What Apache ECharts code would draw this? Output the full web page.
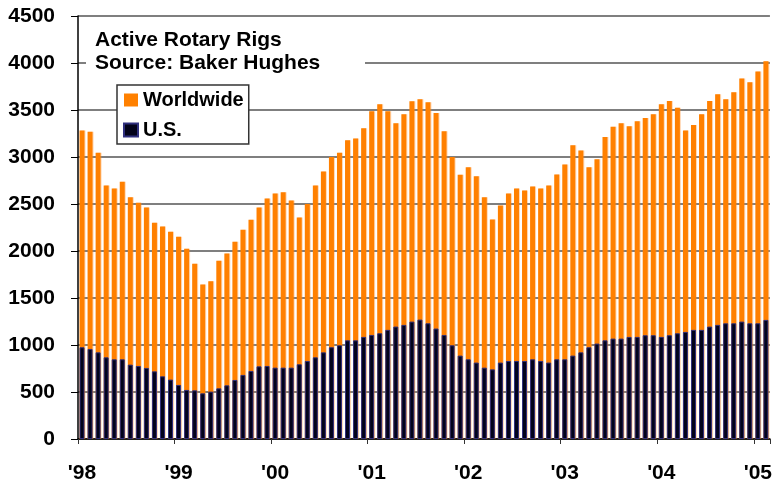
<!DOCTYPE html>
<html>
<head>
<meta charset="utf-8">
<script src="https://cdn.jsdelivr.net/npm/echarts@6/dist/echarts.min.js"></script>
<style>
  html, body { margin: 0; padding: 0; background: #fff; }
  #main { width: 775px; height: 489px; }
</style>
</head>
<body>
<div id="main"></div>
<script>
  // monthly data, Jan 1998 .. Feb 2005
  const yearLabels = ["'98", "'99", "'00", "'01", "'02", "'03", "'04", "'05"]
  const worldwide = [
    3283, 3269, 3046, 2698, 2666, 2737, 2573, 2513, 2463, 2300, 2261, 2204,
    2151, 2023, 1864, 1643, 1679, 1896, 1973, 2098, 2226, 2332, 2463, 2559,
    2612, 2626, 2538, 2357, 2499, 2698, 2847, 2999, 3046, 3177, 3198, 3305,
    3486, 3560, 3486, 3358, 3454, 3592, 3614, 3582, 3468, 3273, 2999, 2812,
    2890, 2794, 2573, 2335, 2485, 2612, 2666, 2644, 2687, 2666, 2698, 2815,
    2921, 3124, 3070, 2890, 2975, 3212, 3323, 3358, 3326, 3379, 3415, 3454,
    3560, 3596, 3525, 3283, 3340, 3454, 3596, 3667, 3614, 3688, 3834, 3795,
    3909, 4018
  ]
  const us = [
    976, 958, 922, 869, 848, 848, 791, 777, 756, 720, 667, 632,
    575, 522, 518, 486, 504, 539, 571, 628, 682, 724, 773, 777,
    759, 759, 759, 795, 830, 869, 922, 976, 997, 1050, 1050, 1086,
    1107, 1125, 1161, 1196, 1214, 1249, 1270, 1231, 1175, 1107, 997, 887,
    848, 813, 759, 741, 813, 830, 830, 830, 848, 830, 813, 848,
    848, 887, 922, 976, 1015, 1050, 1068, 1068, 1086, 1086, 1104, 1104,
    1086, 1104, 1125, 1139, 1161, 1161, 1196, 1214, 1231, 1231, 1249, 1231,
    1231, 1267
  ]

  const months = []
  yearLabels.forEach((y) => {
    for (let m = 0; m < 12; m++) months.push(y + '|' + m)
  })
  const categories = months.slice(0, worldwide.length)

  const font = '"Liberation Sans", Arial, sans-serif'
  const gridColor = '#555'

  const myChart = echarts.init(document.getElementById('main'))
  myChart.setOption({
    animation: false,
    textStyle: { fontFamily: font },
    grid: { left: 78, right: 0, top: 16, bottom: 50 },
    legend: {
      orient: 'vertical',
      left: 117,
      top: 85,
      itemWidth: 14,
      itemHeight: 13,
      itemGap: 10,
      padding: [5, 5, 4, 6],
      backgroundColor: '#fff',
      borderColor: '#333',
      borderWidth: 1.5,
      textStyle: { fontSize: 20, fontWeight: 'bold', color: '#000', fontFamily: font, lineHeight: 20 },
      data: [
        { name: 'Worldwide', icon: 'rect' },
        { name: 'U.S.', icon: 'rect' }
      ]
    },
    graphic: [
      {
        type: 'rect',
        z: 100,
        shape: { x: 86, y: 22, width: 279, height: 56 },
        style: { fill: '#fff' }
      },
      {
        type: 'text',
        z: 101,
        left: 95,
        top: 30,
        style: { text: 'Active Rotary Rigs', fontSize: 21, fontWeight: 'bold', fill: '#000', fontFamily: font }
      },
      {
        type: 'text',
        z: 101,
        left: 95,
        top: 53,
        style: { text: 'Source: Baker Hughes', fontSize: 21, fontWeight: 'bold', fill: '#000', fontFamily: font }
      }
    ],
    xAxis: {
      type: 'category',
      data: categories,
      axisLine: { lineStyle: { color: '#000', width: 1.5 } },
      axisTick: { show: true, length: 5, lineStyle: { color: '#333' } },
      axisLabel: {
        interval: (idx) => idx % 12 === 0,
        formatter: (v) => v.split('|')[0],
        margin: 24,
        fontSize: 21,
        fontWeight: 'bold',
        color: '#000',
        fontFamily: font
      }
    },
    yAxis: {
      type: 'value',
      min: 0,
      max: 4500,
      interval: 500,
      axisLine: { show: true, lineStyle: { color: '#000', width: 1.5 } },
      axisTick: { show: true, length: 7, lineStyle: { color: '#000' } },
      axisLabel: {
        margin: 23,
        fontSize: 21,
        fontWeight: 'bold',
        color: '#000',
        fontFamily: font,
        formatter: (v) => String(v)
      },
      splitLine: { lineStyle: { color: gridColor, width: 1.5 } }
    },
    series: [
      {
        name: 'Worldwide',
        type: 'bar',
        barWidth: 5,
        data: worldwide,
        itemStyle: { color: '#ff8000', shadowColor: 'rgba(255,140,40,0.35)', shadowOffsetX: 1 }
      },
      {
        name: 'U.S.',
        type: 'bar',
        barWidth: 5,
        barGap: '-100%',
        data: us,
        itemStyle: { color: '#03031a', borderColor: '#30307e', borderWidth: 1 }
      }
    ]
  })
</script>
</body>
</html>
